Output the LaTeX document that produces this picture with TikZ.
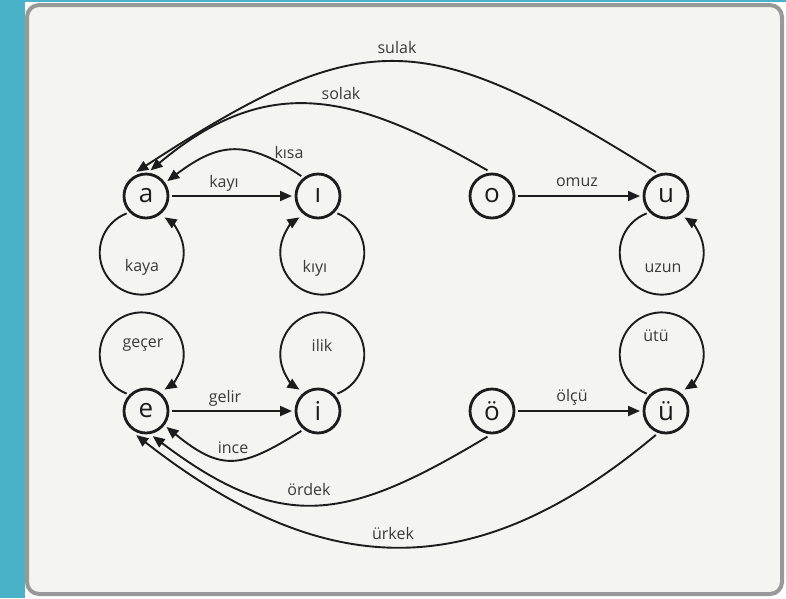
\documentclass[tikz,border=0pt]{standalone}
\usepackage{fontspec}
\setmainfont{Open Sans}
\usetikzlibrary{arrows.meta}
\definecolor{sidebar}{HTML}{4AB2C8}
\definecolor{panel}{HTML}{F4F4F0}
\definecolor{frame}{HTML}{989898}
\definecolor{ink}{HTML}{1C1C1C}
\definecolor{wordgray}{HTML}{3A3A3A}

\begin{document}
\begin{tikzpicture}[x=1pt,y=1pt,
	vowel/.style={draw=ink,circle,line width=2.8pt,minimum size=44pt,inner sep=0pt,outer sep=4pt,
		font=\fontsize{26}{26}\selectfont,text=ink},
	word/.style={font=\fontsize{16}{16}\selectfont,text=wordgray},
	edge/.style={draw=ink,line width=1.9pt,-{Triangle[length=12pt,width=10pt]}}]
		\useasboundingbox (0,0) rectangle (786,-598);
		\fill[sidebar] (0,0) rectangle (25,-598);
		\fill[sidebar] (0,0) rectangle (786,-2);
		\filldraw[fill=panel,draw=frame,line width=4pt,rounded corners=12pt] (27,-5) rectangle (782,-594);
		% back vowels
		\node[vowel] (a) at (146,-196) {a};
		\node[vowel] (idl) at (318,-196) {ı};
		\node[vowel] (o) at (492,-196) {o};
		\node[vowel] (u) at (666,-196) {u};
		% front vowels
		\node[vowel] (e) at (146,-411) {e};
		\node[vowel] (i) at (318,-411) {i};
		\node[vowel] (oe) at (492,-411) {ö};
		\node[vowel] (ue) at (666,-411) {ü};
		% straight
		\draw[edge] (a) -- (idl);
		\draw[edge] (o) -- (u);
		\draw[edge] (e) -- (i);
		\draw[edge] (oe) -- (ue);
		% arcs back to a and e
		\draw[edge] (idl.130) to[out=146,in=37,looseness=1.25] (a.35);
		\draw[edge] (o.100) to[out=150,in=40,looseness=1.17] (a.80);
		\draw[edge] (u.113) to[out=148,in=33,looseness=1.35] (a.112);
		\draw[edge] (i.-130) to[out=-148,in=-39,looseness=1.35] (e.-38);
		\draw[edge] (oe.-100) to[out=-149,in=-37,looseness=1.25] (e.-75);
		\draw[edge] (ue.-113) to[out=-140,in=-38,looseness=1.17] (e.-112);
		% loops
		\draw[edge] (a.-138) arc[start angle=111,end angle=417,radius=42];
		\draw[edge] (idl.-42) arc[start angle=69,end angle=-237,radius=42];
		\draw[edge] (u.-138) arc[start angle=111,end angle=417,radius=42];
		\draw[edge] (e.138) arc[start angle=-111,end angle=-417,radius=42];
		\draw[edge] (i.42) arc[start angle=-69,end angle=237,radius=42];
		\draw[edge] (ue.138) arc[start angle=-111,end angle=-417,radius=42];
		% words
		\node[word] (w-sulak) at (397,-47) {sulak};
		\node[word] (w-solak) at (341,-93) {solak};
		\node[word] (w-kisa) at (289,-152) {kısa};
		\node[word] (w-kayi) at (224,-183) {kayı};
		\node[word] (w-omuz) at (577,-182) {omuz};
		\node[word] (w-kaya) at (142,-267) {kaya};
		\node[word] (w-kiyi) at (315,-268) {kıyı};
		\node[word] (w-uzun) at (663,-268) {uzun};
		\node[word] (w-gecer) at (143,-345) {geçer};
		\node[word] (w-ilik) at (322,-345) {ilik};
		\node[word] (w-utu) at (656,-336) {ütü};
		\node[word] (w-gelir) at (225,-398) {gelir};
		\node[word] (w-olcu) at (572,-397) {ölçü};
		\node[word] (w-ince) at (233,-448) {ince};
		\node[word] (w-ordek) at (309,-489) {ördek};
		\node[word] (w-urkek) at (393,-533) {ürkek};
\end{tikzpicture}
\end{document}
